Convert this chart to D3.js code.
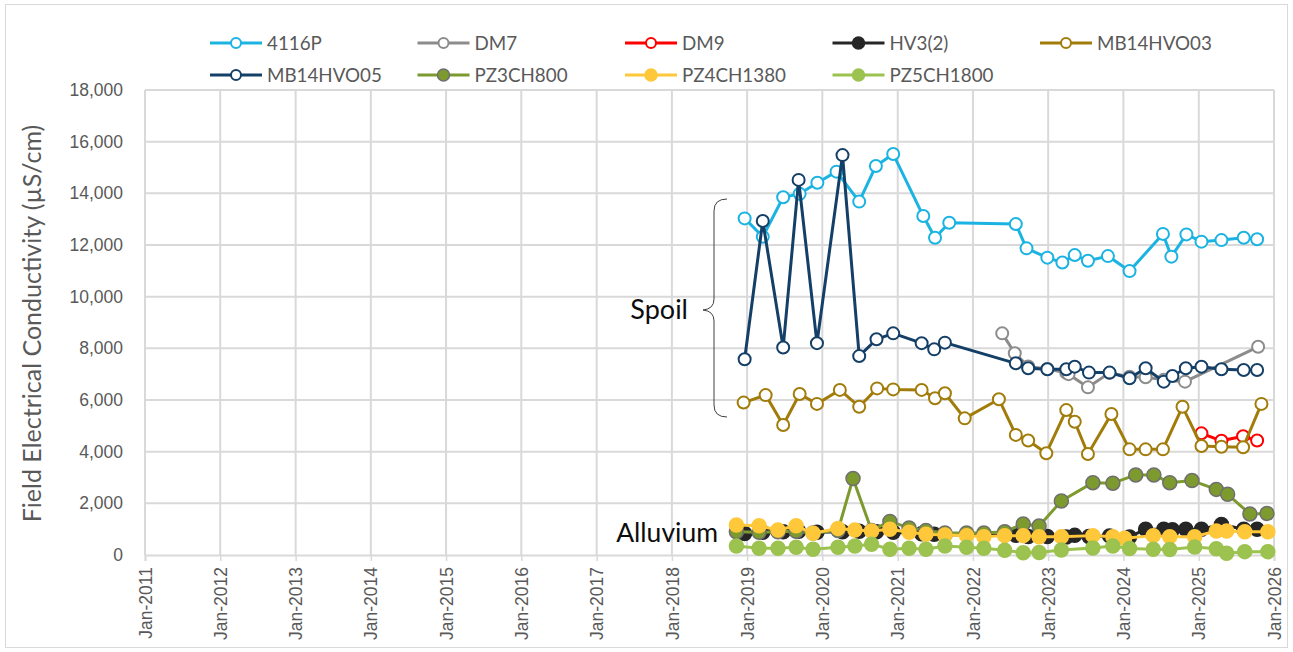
<!DOCTYPE html>
<html>
<head>
<meta charset="utf-8">
<script src="https://cdn.jsdelivr.net/npm/d3@7"></script>
<style>
  html, body { margin: 0; padding: 0; background: #ffffff; }
  svg { display: block; font-family: Lato, "Open Sans", sans-serif; }
</style>
</head>
<body>
<svg id="chart" width="1293" height="652"></svg>
<script>
// ---- data: field EC (µS/cm) by monitoring bore ----
const seriesNames = ["4116P", "DM7", "DM9", "HV3(2)", "MB14HVO03", "MB14HVO05", "PZ3CH800", "PZ4CH1380", "PZ5CH1800"];

const yTicks = [0, 2000, 4000, 6000, 8000, 10000, 12000, 14000, 16000, 18000];
const xTickYears = [2011, 2012, 2013, 2014, 2015, 2016, 2017, 2018, 2019, 2020, 2021, 2022, 2023, 2024, 2025, 2026];

const dates4116P = ["2018-12-20", "2019-03-18", "2019-06-25", "2019-09-13", "2019-12-08", "2020-03-10", "2020-06-28", "2020-09-17", "2020-12-10", "2021-05-05", "2021-07-01", "2021-09-08", "2022-07-28", "2022-09-18", "2022-12-28", "2023-03-11", "2023-05-10", "2023-07-13", "2023-10-18", "2024-01-31", "2024-07-11", "2024-08-21", "2024-11-02", "2025-01-14", "2025-04-21", "2025-08-07", "2025-10-11"];
const vals4116P = [13030, 12320, 13850, 13980, 14410, 14840, 13680, 15060, 15520, 13120, 12280, 12860, 12810, 11870, 11510, 11320, 11610, 11390, 11570, 10990, 12430, 11550, 12410, 12130, 12190, 12280, 12220];

const datesDM7 = ["2022-05-23", "2022-07-23", "2022-09-26", "2022-12-28", "2023-03-30", "2023-04-10", "2023-07-13", "2023-10-26", "2024-01-31", "2024-04-18", "2024-07-15", "2024-10-26", "2025-10-16"];
const valsDM7 = [8580, 7810, 7300, 7200, 7050, 7000, 6490, 7050, 6900, 6880, 6780, 6710, 8060];

const datesDM9 = ["2025-01-14", "2025-04-21", "2025-08-04", "2025-10-11"];
const valsDM9 = [4710, 4420, 4600, 4430];

const datesHV3 = ["2018-12-20", "2019-03-18", "2019-06-25", "2019-09-08", "2019-12-06", "2020-04-08", "2020-06-28", "2020-09-20", "2020-12-10", "2021-04-27", "2021-06-27", "2021-08-18", "2022-07-28", "2022-09-26", "2022-12-28", "2023-03-30", "2023-05-10", "2023-07-18", "2023-10-26", "2024-01-31", "2024-04-18", "2024-07-15", "2024-08-26", "2024-10-30", "2025-01-14", "2025-04-21", "2025-08-07", "2025-10-11"];
const valsHV3 = [830, 880, 900, 920, 880, 900, 920, 900, 880, 820, 800, 780, 760, 720, 720, 700, 760, 720, 740, 700, 1000, 1000, 980, 1000, 1000, 1180, 1000, 1000];

const datesMB03 = ["2018-12-15", "2019-04-01", "2019-06-25", "2019-09-13", "2019-12-06", "2020-03-26", "2020-06-28", "2020-09-23", "2020-12-10", "2021-04-27", "2021-07-01", "2021-08-18", "2021-11-22", "2022-05-07", "2022-07-28", "2022-09-26", "2022-12-23", "2023-03-30", "2023-05-10", "2023-07-13", "2023-11-04", "2024-01-31", "2024-04-18", "2024-07-11", "2024-10-14", "2025-01-14", "2025-04-21", "2025-08-04", "2025-11-01"];
const valsMB03 = [5900, 6190, 5030, 6230, 5850, 6390, 5740, 6450, 6410, 6390, 6070, 6260, 5290, 6030, 4650, 4430, 3940, 5610, 5160, 3910, 5460, 4090, 4090, 4090, 5740, 4220, 4190, 4170, 5850];

const datesMB05 = ["2018-12-20", "2019-03-18", "2019-06-25", "2019-09-08", "2019-12-06", "2020-04-08", "2020-06-28", "2020-09-20", "2020-12-10", "2021-04-27", "2021-06-27", "2021-08-18", "2022-07-28", "2022-09-26", "2022-12-28", "2023-03-30", "2023-05-10", "2023-07-18", "2023-10-26", "2024-01-31", "2024-04-18", "2024-07-15", "2024-08-26", "2024-10-30", "2025-01-14", "2025-04-21", "2025-08-07", "2025-10-11"];
const valsMB05 = [7580, 12930, 8030, 14520, 8200, 15480, 7700, 8350, 8580, 8200, 7960, 8220, 7420, 7230, 7190, 7190, 7290, 7060, 7060, 6840, 7230, 6710, 6930, 7230, 7290, 7190, 7160, 7160];

const datesPZ3 = ["2018-11-10", "2019-02-28", "2019-05-31", "2019-08-27", "2019-11-17", "2020-03-17", "2020-05-29", "2020-08-27", "2020-11-24", "2021-02-25", "2021-05-18", "2021-08-18", "2021-12-01", "2022-02-23", "2022-06-04", "2022-09-02", "2022-11-18", "2023-03-06", "2023-08-06", "2023-11-11", "2024-03-01", "2024-05-28", "2024-08-13", "2024-11-29", "2025-03-27", "2025-05-21", "2025-09-06", "2025-11-28"];
const valsPZ3 = [900, 880, 900, 920, 850, 950, 2960, 950, 1300, 1050, 950, 850, 850, 850, 900, 1200, 1120, 2090, 2800, 2780, 3100, 3100, 2800, 2880, 2540, 2350, 1590, 1610];

const datesPZ4 = ["2018-11-10", "2019-02-28", "2019-05-31", "2019-08-27", "2019-11-17", "2020-03-17", "2020-06-07", "2020-08-27", "2020-11-24", "2021-02-25", "2021-05-18", "2021-08-18", "2021-12-01", "2022-02-23", "2022-06-04", "2022-09-02", "2022-11-18", "2023-03-06", "2023-08-06", "2023-11-11", "2024-01-07", "2024-05-25", "2024-08-13", "2024-12-12", "2025-03-27", "2025-05-16", "2025-08-12", "2025-12-02"];
const valsPZ4 = [1160, 1130, 970, 1130, 840, 1030, 970, 930, 1000, 880, 800, 775, 750, 710, 750, 750, 710, 710, 750, 710, 645, 750, 710, 710, 930, 930, 900, 900];

const datesPZ5 = ["2018-11-10", "2019-02-28", "2019-05-31", "2019-08-27", "2019-11-17", "2020-03-17", "2020-06-07", "2020-08-27", "2020-11-24", "2021-02-25", "2021-05-18", "2021-08-18", "2021-12-01", "2022-02-23", "2022-06-04", "2022-09-02", "2022-11-18", "2023-03-06", "2023-08-06", "2023-11-11", "2024-01-31", "2024-05-25", "2024-08-13", "2024-12-12", "2025-03-27", "2025-05-16", "2025-08-12", "2025-12-02"];
const valsPZ5 = [350, 260, 260, 300, 220, 300, 350, 420, 220, 260, 220, 350, 300, 260, 180, 90, 100, 190, 270, 350, 250, 220, 210, 310, 240, 70, 130, 130];

// ---- styling per series ----
const seriesStyle = {
  "4116P":     { color: "#1ab3e2", fill: "#ffffff", stroke: "#1ab3e2" },
  "DM7":       { color: "#8c8c8c", fill: "#ffffff", stroke: "#8c8c8c" },
  "DM9":       { color: "#ff0000", fill: "#ffffff", stroke: "#ff0000" },
  "HV3(2)":    { color: "#262626", fill: "#262626", stroke: "#262626" },
  "MB14HVO03": { color: "#a27c0a", fill: "#ffffff", stroke: "#a27c0a" },
  "MB14HVO05": { color: "#143f66", fill: "#ffffff", stroke: "#143f66" },
  "PZ3CH800":  { color: "#7d9a2e", fill: "#7d9a2e", stroke: "#6f6f6f" },
  "PZ4CH1380": { color: "#ffc83a", fill: "#ffc83a", stroke: "#ffc83a" },
  "PZ5CH1800": { color: "#9cc24f", fill: "#9cc24f", stroke: "#9cc24f" }
};

const parse = d3.timeParse("%Y-%m-%d");
const build = (dates, vals) => dates.map((d, i) => ({ date: parse(d), value: vals[i] }));
const seriesData = {
  "4116P": build(dates4116P, vals4116P),
  "DM7": build(datesDM7, valsDM7),
  "DM9": build(datesDM9, valsDM9),
  "HV3(2)": build(datesHV3, valsHV3),
  "MB14HVO03": build(datesMB03, valsMB03),
  "MB14HVO05": build(datesMB05, valsMB05),
  "PZ3CH800": build(datesPZ3, valsPZ3),
  "PZ4CH1380": build(datesPZ4, valsPZ4),
  "PZ5CH1800": build(datesPZ5, valsPZ5)
};

// ---- layout ----
const svg = d3.select("#chart");
const plot = { left: 145, right: 1274, top: 90, bottom: 555 };

const x = d3.scaleTime()
  .domain([new Date(2011, 0, 1), new Date(2026, 0, 1)])
  .range([plot.left, plot.right]);
const y = d3.scaleLinear()
  .domain([0, 18000])
  .range([plot.bottom, plot.top]);

// outer chart border
svg.append("rect")
  .attr("x", 5.5).attr("y", 4.5).attr("width", 1282).attr("height", 643)
  .attr("fill", "none").attr("stroke", "#d9d9d9").attr("stroke-width", 1);

// gridlines
const grid = svg.append("g");
grid.selectAll("line.h").data(yTicks.filter(v => v > 0)).join("line")
  .attr("x1", plot.left).attr("x2", plot.right)
  .attr("y1", d => y(d)).attr("y2", d => y(d))
  .attr("stroke", "#d9d9d9").attr("stroke-width", 2);
grid.selectAll("line.v").data(xTickYears).join("line")
  .attr("x1", d => x(new Date(d, 0, 1))).attr("x2", d => x(new Date(d, 0, 1)))
  .attr("y1", plot.top).attr("y2", plot.bottom)
  .attr("stroke", "#d9d9d9").attr("stroke-width", 2);

// x axis
const xAxis = d3.axisBottom(x)
  .tickValues(xTickYears.map(yr => new Date(yr, 0, 1)))
  .tickFormat(d3.timeFormat("%b-%Y"))
  .tickSize(6)
  .tickPadding(6);
const gx = svg.append("g")
  .attr("transform", `translate(0,${plot.bottom})`)
  .call(xAxis);
gx.select(".domain").attr("stroke", "#d9d9d9").attr("stroke-width", 2);
gx.selectAll(".tick line").attr("stroke", "#d9d9d9").attr("stroke-width", 1.5);
gx.selectAll(".tick text")
  .attr("fill", "#595959")
  .style("font-size", "17.5px")
  .attr("text-anchor", "end")
  .attr("transform", "rotate(-90)")
  .attr("x", -12)
  .attr("y", 0)
  .attr("dy", "0.35em");

// y axis
const yAxis = d3.axisLeft(y)
  .tickValues(yTicks)
  .tickFormat(d3.format(","))
  .tickSize(0)
  .tickPadding(22);
const gy = svg.append("g")
  .attr("transform", `translate(${plot.left},0)`)
  .call(yAxis);
gy.select(".domain").remove();
gy.selectAll(".tick text")
  .attr("fill", "#595959")
  .style("font-size", "17.5px");

// y axis title
svg.append("text")
  .attr("transform", `translate(41,${(plot.top + plot.bottom) / 2 + 1}) rotate(-90)`)
  .attr("text-anchor", "middle")
  .attr("fill", "#595959")
  .style("font-size", "25px")
  .text("Field Electrical Conductivity (µS/cm)");

// series lines and markers
const line = d3.line().x(d => x(d.date)).y(d => y(d.value));
const series = svg.append("g");
seriesNames.forEach(name => {
  const st = seriesStyle[name];
  const g = series.append("g");
  g.append("path")
    .datum(seriesData[name])
    .attr("d", line)
    .attr("fill", "none")
    .attr("stroke", st.color)
    .attr("stroke-width", 3)
    .attr("stroke-linejoin", "round");
  const hollow = st.fill === "#ffffff";
  g.selectAll("circle").data(seriesData[name]).join("circle")
    .attr("cx", d => x(d.date))
    .attr("cy", d => y(d.value))
    .attr("r", hollow ? 6 : 7)
    .attr("fill", st.fill)
    .attr("stroke", st.stroke)
    .attr("stroke-width", hollow ? 2 : 1.5);
});

// annotations
const ann = svg.append("g");
ann.append("path")
  .attr("d", "M727,199 Q714,199 714,211 L714,299 Q714,309 703,310 Q714,311 714,321 L714,405 Q714,417 727,417")
  .attr("fill", "none").attr("stroke", "#404040").attr("stroke-width", 1);
ann.append("text")
  .attr("x", 688).attr("y", 319)
  .attr("text-anchor", "end")
  .attr("fill", "#0d0d0d")
  .style("font-size", "27px")
  .text("Spoil");
ann.append("text")
  .attr("x", 718).attr("y", 542)
  .attr("text-anchor", "end")
  .attr("fill", "#0d0d0d")
  .style("font-size", "26.5px")
  .text("Alluvium");

// legend: five entries per row
const legend = svg.append("g");
seriesNames.forEach((name, i) => {
  const st = seriesStyle[name];
  const col = i % 5, row = Math.floor(i / 5);
  const lx = 210 + col * 207.5, ly = 43 + row * 32;
  const g = legend.append("g").attr("transform", `translate(${lx},${ly})`);
  g.append("line").attr("x1", 0).attr("x2", 52).attr("y1", 0).attr("y2", 0)
    .attr("stroke", st.color).attr("stroke-width", 3);
  const hollow = st.fill === "#ffffff";
  g.append("circle").attr("cx", 26).attr("cy", 0).attr("r", hollow ? 5 : 6)
    .attr("fill", st.fill).attr("stroke", st.stroke).attr("stroke-width", hollow ? 2 : 1.5);
  g.append("text").attr("x", 57).attr("y", 0).attr("dy", "0.35em")
    .attr("fill", "#595959").style("font-size", "18.8px").text(name);
});
</script>
</body>
</html>
